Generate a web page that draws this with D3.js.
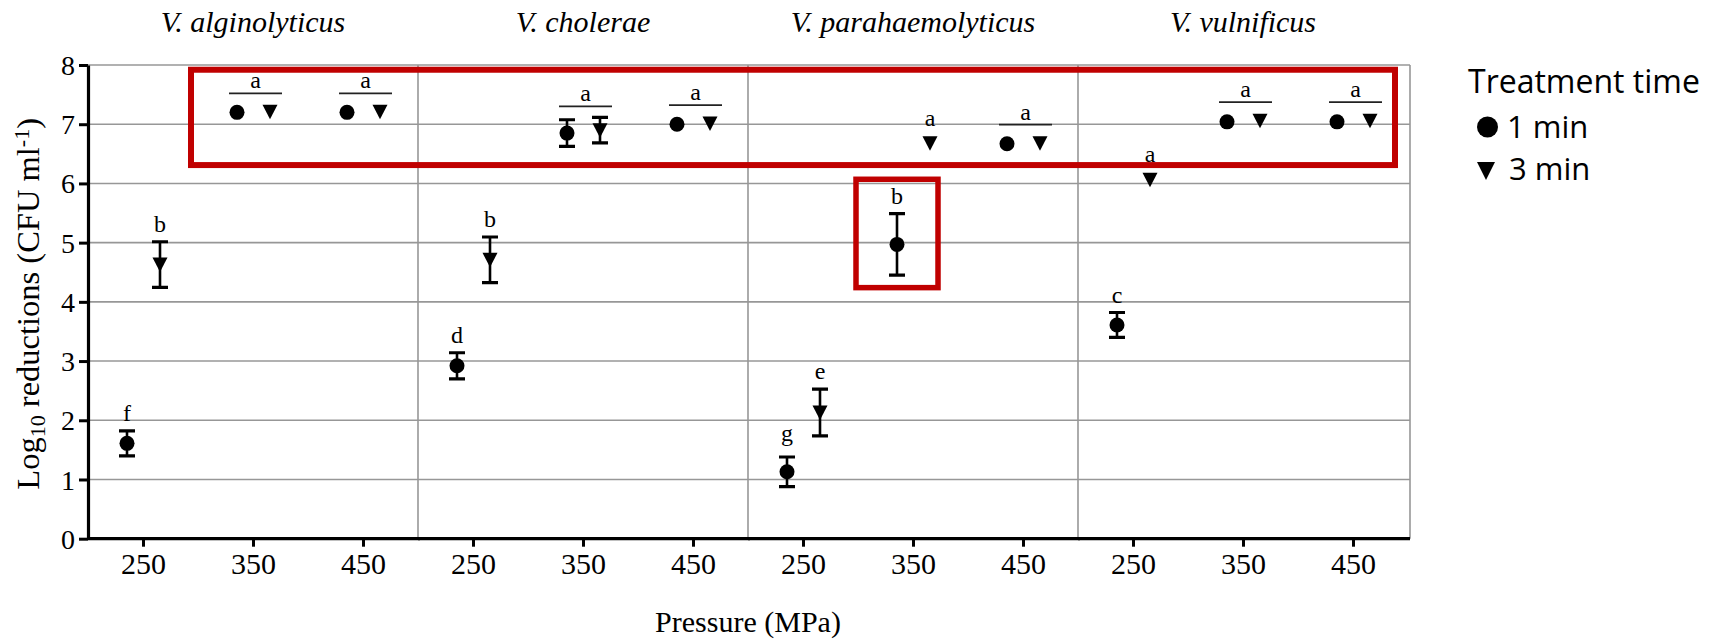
<!DOCTYPE html>
<html>
<head>
<meta charset="utf-8">
<script src="https://cdn.jsdelivr.net/npm/d3@7"></script>
<style>
  html, body { margin: 0; padding: 0; background: #fff; }
  svg { display: block; }
</style>
</head>
<body>
<svg id="chart" width="1719" height="639"></svg>
<script>
// ---------------- DATA ----------------
const species = ["V. alginolyticus", "V. cholerae", "V. parahaemolyticus", "V. vulnificus"];
const pressures = [250, 350, 450];
const yTicks = [0, 1, 2, 3, 4, 5, 6, 7, 8];
const seriesNames = ["1 min", "3 min"];

// Log10 reductions, rows = species, cols = pressure (250, 350, 450)
const mean1min = [
  [1.61, 7.20, 7.20],
  [2.92, 6.85, 7.00],
  [1.13, 4.97, 6.67],
  [3.61, 7.04, 7.04]
];
const err1min = [
  [0.21, 0, 0],
  [0.22, 0.225, 0],
  [0.25, 0.52, 0],
  [0.21, 0, 0]
];
const mean3min = [
  [4.63, 7.21, 7.21],
  [4.71, 6.90, 7.01],
  [2.13, 6.68, 6.68],
  [6.06, 7.06, 7.06]
];
const err3min = [
  [0.385, 0, 0],
  [0.385, 0.215, 0],
  [0.395, 0, 0],
  [0, 0, 0]
];
// significance letters: [speciesIndex, pressure, which ("1 min" | "3 min" | "both"), letter]
const letters = [
  [0, 250, "1 min", "f"], [0, 250, "3 min", "b"], [0, 350, "both", "a"], [0, 450, "both", "a"],
  [1, 250, "1 min", "d"], [1, 250, "3 min", "b"], [1, 350, "both", "a"], [1, 450, "both", "a"],
  [2, 250, "1 min", "g"], [2, 250, "3 min", "e"], [2, 350, "1 min", "b"], [2, 350, "3 min", "a"], [2, 450, "both", "a"],
  [3, 250, "1 min", "c"], [3, 250, "3 min", "a"], [3, 350, "both", "a"], [3, 450, "both", "a"]
];
// highlight boxes (value ranges)
const bigBoxY = [6.31, 7.92];
const smallBoxY = [4.24, 6.07];

// ---------------- LAYOUT ----------------
const svg = d3.select("#chart");
const L = 88, R = 1408, T = 65, B = 538.7;
const serif = "'Liberation Serif', 'Times New Roman', serif";
const sans = "'Open Sans', 'Noto Sans', sans-serif";
const gridColor = "#979797";
const red = "#c00000";

const xSp = d3.scaleBand().domain(species).range([L, R]);
const xP = d3.scalePoint().domain(pressures).range([0, xSp.bandwidth()]).padding(0.5);
const y = d3.scaleLinear().domain([0, 8]).range([B, T]);
const dodge = { "1 min": -16, "3 min": 17 };

// rows for points
const points = [];
species.forEach((sp, i) => {
  pressures.forEach((p, j) => {
    points.push({ sp, i, p, s: "1 min", v: mean1min[i][j], e: err1min[i][j] });
    points.push({ sp, i, p, s: "3 min", v: mean3min[i][j], e: err3min[i][j] });
  });
});
const px = d => xSp(d.sp) + xP(d.p) + dodge[d.s];

// ---------------- GRID ----------------
const grid = svg.append("g");
grid.selectAll("line.h").data(yTicks.filter(t => t > 0)).join("line")
  .attr("x1", L).attr("x2", R + 2)
  .attr("y1", d => y(d)).attr("y2", d => y(d))
  .attr("stroke", gridColor).attr("stroke-width", 1.6);
grid.selectAll("line.v").data(species.slice(1).map(s => xSp(s)).concat([R + 2])).join("line")
  .attr("x1", d => d).attr("x2", d => d)
  .attr("y1", y(8)).attr("y2", y(0))
  .attr("stroke", gridColor).attr("stroke-width", 1.6);

// ---------------- AXES ----------------
const yAxis = svg.append("g").attr("transform", `translate(${L},0)`)
  .call(d3.axisLeft(y).tickValues(yTicks).tickSize(9).tickSizeOuter(0).tickPadding(4));
yAxis.select(".domain").attr("stroke", "#000").attr("stroke-width", 3.2);
yAxis.selectAll(".tick line").attr("stroke", "#000").attr("stroke-width", 3);
yAxis.selectAll(".tick text").attr("font-family", serif).attr("font-size", 28).attr("fill", "#000")
  .attr("dy", "0.34em");

species.forEach(sp => {
  const g = svg.append("g").attr("transform", `translate(${xSp(sp)},${B})`)
    .call(d3.axisBottom(xP).tickSize(8).tickSizeOuter(0).tickPadding(6));
  g.select(".domain").attr("stroke", "#000").attr("stroke-width", 3.2)
    .attr("d", `M0,0H${xSp.bandwidth() + 2}`);
  g.selectAll(".tick line").attr("stroke", "#000").attr("stroke-width", 3);
  g.selectAll(".tick text").attr("font-family", serif).attr("font-size", 30).attr("fill", "#000");
});

// species titles
svg.append("g").selectAll("text").data(species).join("text")
  .attr("x", d => xSp(d) + xSp.bandwidth() / 2).attr("y", 32)
  .attr("text-anchor", "middle").attr("font-family", serif).attr("font-style", "italic")
  .attr("font-size", 30).attr("fill", "#000").text(d => d);

// x title
svg.append("text").attr("x", (L + R) / 2).attr("y", 632).attr("text-anchor", "middle")
  .attr("font-family", serif).attr("font-size", 30).attr("fill", "#000").text("Pressure (MPa)");

// y title
const yt = svg.append("text").attr("transform", `translate(39,${(T + B) / 2 + 2}) rotate(-90)`)
  .attr("text-anchor", "middle").attr("font-family", serif).attr("font-size", 32.5).attr("fill", "#000");
yt.append("tspan").text("Log");
yt.append("tspan").attr("font-size", 22).attr("baseline-shift", "-25%").text("10");
yt.append("tspan").text(" reductions (CFU ml");
yt.append("tspan").attr("font-size", 22).attr("baseline-shift", "45%").text("-1");
yt.append("tspan").text(")");

// ---------------- MARKS ----------------
const marks = svg.append("g");
const eb = points.filter(d => d.e > 0);
marks.selectAll("line.eb").data(eb).join("line")
  .attr("x1", px).attr("x2", px)
  .attr("y1", d => y(d.v + d.e)).attr("y2", d => y(d.v - d.e))
  .attr("stroke", "#000").attr("stroke-width", 2.6);
marks.selectAll("path.cap").data(eb).join("path")
  .attr("d", d => `M${px(d) - 8},${y(d.v + d.e)}H${px(d) + 8}M${px(d) - 8},${y(d.v - d.e)}H${px(d) + 8}`)
  .attr("stroke", "#000").attr("stroke-width", 3.2);

const tri = "M-7.5,-7L7.5,-7L0,7.5Z";
marks.selectAll("circle.m").data(points.filter(d => d.s === "1 min")).join("circle")
  .attr("cx", px).attr("cy", d => y(d.v)).attr("r", 7.5).attr("fill", "#000");
marks.selectAll("path.t").data(points.filter(d => d.s === "3 min")).join("path")
  .attr("d", tri).attr("transform", d => `translate(${px(d)},${y(d.v)})`).attr("fill", "#000");

// ---------------- LETTERS ----------------
const topOf = d => Math.min(y(d.v) - 7.5, y(d.v + d.e));
const descender = t => (/[gpqy]/.test(t) ? 6 : 0);
const lg = svg.append("g");
letters.forEach(([i, p, which, txt]) => {
  const sp = species[i];
  const cx = xSp(sp) + xP(p);
  if (which === "both") {
    const pts = points.filter(d => d.sp === sp && d.p === p);
    const top = d3.min(pts, topOf);
    const ly = top - 11;
    lg.append("line").attr("x1", cx - 24).attr("x2", cx + 29).attr("y1", ly).attr("y2", ly)
      .attr("stroke", "#222").attr("stroke-width", 1.8);
    lg.append("text").attr("x", cx + 2.5).attr("y", ly - 5).attr("text-anchor", "middle")
      .attr("font-family", serif).attr("font-size", 24).text(txt);
  } else {
    const d = points.find(q => q.sp === sp && q.p === p && q.s === which);
    lg.append("text").attr("x", px(d)).attr("y", topOf(d) - 10 - descender(txt)).attr("text-anchor", "middle")
      .attr("font-family", serif).attr("font-size", 24).text(txt);
  }
});

// ---------------- HIGHLIGHT BOXES ----------------
const bx0 = xSp(species[0]) + xP(350) - 62;
const bx1 = xSp(species[3]) + xP(450) + 42;
svg.append("rect").attr("x", bx0).attr("y", y(bigBoxY[1]))
  .attr("width", bx1 - bx0).attr("height", y(bigBoxY[0]) - y(bigBoxY[1]))
  .attr("fill", "none").attr("stroke", red).attr("stroke-width", 6);
const sp3 = points.find(d => d.i === 2 && d.p === 350 && d.s === "1 min");
svg.append("rect").attr("x", px(sp3) - 41).attr("y", y(smallBoxY[1]))
  .attr("width", 82).attr("height", y(smallBoxY[0]) - y(smallBoxY[1]))
  .attr("fill", "none").attr("stroke", red).attr("stroke-width", 5.5);

// ---------------- LEGEND ----------------
const leg = svg.append("g");
leg.append("text").attr("x", 1468).attr("y", 93).attr("font-family", sans).attr("font-size", 32)
  .attr("fill", "#000").text("Treatment time");
leg.append("circle").attr("cx", 1487.5).attr("cy", 127).attr("r", 10.5).attr("fill", "#000");
leg.append("text").attr("x", 1507).attr("y", 138).attr("font-family", sans).attr("font-size", 31)
  .attr("fill", "#000").text(seriesNames[0]);
leg.append("path").attr("d", "M-9,-9L9,-9L0,9Z").attr("transform", "translate(1486,171)").attr("fill", "#000");
leg.append("text").attr("x", 1509).attr("y", 180).attr("font-family", sans).attr("font-size", 31)
  .attr("fill", "#000").text(seriesNames[1]);
</script>
</body>
</html>
